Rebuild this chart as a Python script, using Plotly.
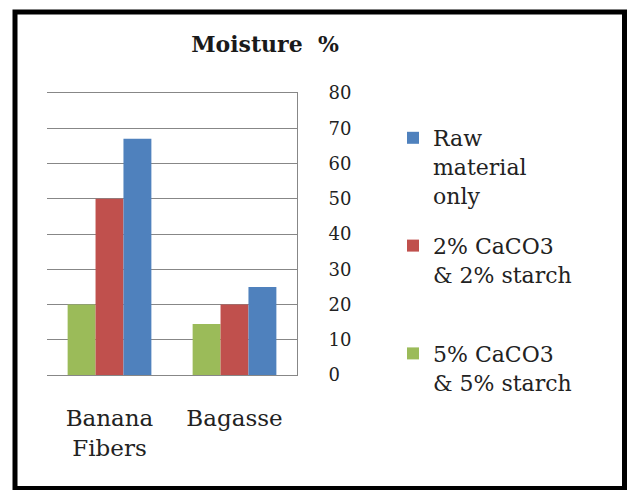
import plotly.graph_objects as go

categories = ["Banana Fibers", "Bagasse"]
tick_labels = ["Banana<br>Fibers", "Bagasse"]
series_names = ["5% CaCO3<br>& 5% starch", "2% CaCO3<br>& 2% starch<br> ", "Raw<br>material<br>only"]
series_values = [
    [20, 14.5],   # 5% CaCO3 & 5% starch
    [50, 20],     # 2% CaCO3 & 2% starch
    [67, 25],     # Raw material only
]
series_colors = ["#9BBB59", "#C0504D", "#4F81BD"]
legend_ranks = [3, 2, 1]
y_ticks = [0, 10, 20, 30, 40, 50, 60, 70, 80]

W, H = 627, 490
L, R, T, B = 47, 330, 93, 115
pw, ph = W - L - R, H - T - B

def px_x(X):
    return (X - L) / pw

def px_y(Y):
    return (H - B - Y) / ph

FONT = "DejaVu Serif"
GRID = "#878787"

fig = go.Figure()
for name, vals, col, rank in zip(series_names, series_values, series_colors, legend_ranks):
    fig.add_trace(go.Bar(
        x=categories, y=vals, name=name, marker=dict(color=col, line=dict(width=0)),
        legendgroup=name, legendrank=rank,
    ))

fig.update_layout(
    width=W, height=H,
    margin=dict(l=L, r=R, t=T, b=B),
    paper_bgcolor="white", plot_bgcolor="white",
    barmode="group", bargap=0.33, bargroupgap=0,
    font=dict(family=FONT, color="#222222"),
    title=dict(text="<b>Moisture\u00a0 %</b>", xref="container", yref="container",
               x=265 / W, y=1 - 44 / H, xanchor="center", yanchor="middle",
               font=dict(family=FONT, size=22, color="#1a1a1a")),
    xaxis=dict(tickmode="array", tickvals=categories, ticktext=tick_labels,
               showgrid=False, showline=True, mirror=True, linecolor=GRID, linewidth=1,
               ticks="", zeroline=False,
               tickfont=dict(family=FONT, size=23, color="#222222"),
               ticklabelstandoff=22),
    yaxis=dict(range=[0, 80], tickvals=y_ticks, side="right",
               showgrid=True, gridcolor=GRID, gridwidth=1,
               showline=True, linecolor=GRID, linewidth=1,
               zeroline=True, zerolinecolor=GRID, zerolinewidth=1,
               ticks="", tickfont=dict(family=FONT, size=18, color="#222222"),
               ticklabelstandoff=27),
    legend=dict(x=px_x(393), y=px_y(117), xref="paper", yref="paper",
                xanchor="left", yanchor="top", traceorder="grouped",
                tracegroupgap=19, valign="top", itemwidth=30, maxheight=1000,
                font=dict(family=FONT, size=22, color="#222222"),
                bgcolor="rgba(0,0,0,0)"),
    shapes=[dict(type="rect", xref="paper", yref="paper",
                 x0=px_x(15), x1=px_x(624.5), y0=px_y(488.5), y1=px_y(12),
                 line=dict(color="black", width=5), fillcolor="rgba(0,0,0,0)",
                 layer="above")],
)

fig.write_html("out.html", config={"displayModeBar": False},
               post_script="document.body.style.margin='0';document.body.style.overflow='hidden';")
